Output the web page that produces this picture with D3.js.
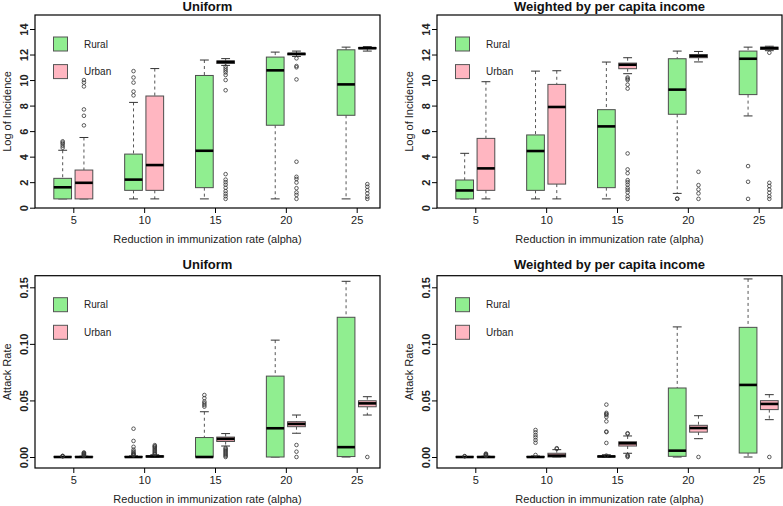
<!DOCTYPE html>
<html>
<head>
<meta charset="utf-8">
<script src="https://cdn.jsdelivr.net/npm/d3@7/dist/d3.min.js"></script>
<style>
  html, body { margin: 0; padding: 0; background: #fff; }
  svg { display: block; font-family: "Liberation Sans", Arial, Helvetica, sans-serif; }
</style>
</head>
<body>
<svg id="chart" width="783" height="506"></svg>
<script>
// ---------------- DATA ----------------
const alphas = [5, 10, 15, 20, 25];
const seriesNames = ["Rural", "Urban"];
const panelTitles = ["Uniform", "Weighted by per capita income"];
const xAxisTitle = "Reduction in immunization rate (alpha)";
const logAxisTitle = "Log of Incidence";
const attackAxisTitle = "Attack Rate";
const logTicks = [0, 2, 4, 6, 8, 10, 12, 14];
const attackTicks = [0, 0.05, 0.10, 0.15];
const attackTickLabels = ["0.00", "0.05", "0.10", "0.15"];

// box stats per alpha: [lower whisker, Q1, median, Q3, upper whisker]
const logUniformRural = [
  [0.69, 0.69, 1.6, 2.3, 4.5],
  [0.69, 1.36, 2.2, 4.2, 8.25],
  [0.69, 1.57, 4.46, 10.36, 11.57],
  [0.69, 6.46, 10.76, 11.8, 12.19],
  [0.69, 7.24, 9.66, 12.37, 12.58]
];
const logUniformRuralOut = [
  [4.7, 4.85, 5.0, 5.1, 5.2],
  [8.8, 9.1, 9.8, 10.2, 10.7],
  [], [], []
];
const logUniformUrban = [
  [0.69, 0.69, 1.95, 2.95, 5.5],
  [0.69, 1.36, 3.34, 8.75, 10.9],
  [11.15, 11.3, 11.42, 11.5, 11.68],
  [11.85, 11.98, 12.05, 12.1, 12.27],
  [12.27, 12.45, 12.5, 12.55, 12.62]
];
const logUniformUrbanOut = [
  [6.45, 7.2, 7.7, 9.5, 9.8, 10.0],
  [],
  [11.05, 10.9, 10.75, 10.6, 10.4, 10.0, 9.2, 2.63, 2.2, 2.0, 1.8, 1.56, 1.3, 1.1, 0.9, 0.69],
  [11.7, 11.1, 11.0, 10.05, 3.6, 2.42, 2.25, 1.97, 1.53, 1.2, 1.0, 0.69],
  [1.85, 1.64, 1.38, 1.12, 0.86, 0.69]
];

const logWeightedRural = [
  [0.69, 0.69, 1.35, 2.17, 4.26],
  [0.69, 1.36, 4.44, 5.7, 10.7],
  [0.69, 1.57, 6.37, 7.68, 11.41],
  [1.12, 7.32, 9.25, 11.67, 12.27],
  [7.19, 8.86, 11.67, 12.27, 12.58]
];
const logWeightedRuralOut = [
  [], [], [],
  [0.69, 0.72],
  [3.26, 2.03, 0.69]
];
const logWeightedUrban = [
  [0.69, 1.36, 3.08, 5.43, 9.87],
  [0.69, 1.85, 7.89, 9.66, 10.73],
  [10.5, 10.89, 11.2, 11.33, 11.75],
  [11.42, 11.75, 11.88, 12.0, 12.24],
  [12.3, 12.4, 12.5, 12.58, 12.65]
];
const logWeightedUrbanOut = [
  [], [],
  [10.2, 10.1, 10.0, 9.64, 9.33, 4.25, 3.0, 2.7, 2.16, 2.0, 1.8, 1.56, 1.4, 1.2, 0.9, 0.69],
  [2.81, 1.77, 1.43, 1.12, 0.69],
  [12.14, 1.95, 1.7, 1.43, 1.17, 0.9, 0.69]
];

const attackUniformRural = [
  [0, 0, 0, 0.0002, 0.0004],
  [0, 0, 0, 0.0004, 0.001],
  [0, 0, 0, 0.0172, 0.040],
  [0, 0, 0.0254, 0.0715, 0.1033],
  [0, 0.0004, 0.0087, 0.1235, 0.1553]
];
const attackUniformRuralOut = [
  [0.0006, 0.0008, 0.001],
  [0.0015, 0.002, 0.0025, 0.003, 0.004, 0.005, 0.0065, 0.009, 0.0142, 0.025],
  [0.0445, 0.046, 0.0475, 0.049, 0.052, 0.0548],
  [], []
];
const attackUniformUrban = [
  [0, 0, 0, 0.0003, 0.0007],
  [0, 0, 0.0005, 0.001, 0.002],
  [0.0097, 0.0137, 0.016, 0.0176, 0.0207],
  [0.021, 0.0268, 0.0292, 0.0312, 0.0371],
  [0.0371, 0.0444, 0.0474, 0.0497, 0.0533]
];
const attackUniformUrbanOut = [
  [0.001, 0.0015, 0.002, 0.0025, 0.003, 0.0035, 0.004],
  [0.0025, 0.003, 0.004, 0.005, 0.006, 0.007, 0.008, 0.009, 0.0095, 0.0105],
  [0.008, 0.007, 0.006, 0.005, 0.004, 0.003, 0.002, 0.001, 0],
  [0.0106, 0.0047, 0],
  [0]
];

const attackWeightedRural = [
  [0, 0, 0, 0.0002, 0.0004],
  [0, 0, 0, 0.0004, 0.0009],
  [0, 0, 0.0005, 0.0009, 0.002],
  [0, 0.0006, 0.0056, 0.061, 0.115],
  [0, 0.0035, 0.0637, 0.1146, 0.1574]
];
const attackWeightedRuralOut = [
  [0.0006, 0.0008],
  [0.0018, 0.0126, 0.015, 0.0174, 0.0194, 0.0218, 0.0239],
  [0.0012, 0.0124, 0.022, 0.0225, 0.0315, 0.0354, 0.0372, 0.038, 0.039, 0.0463],
  [], []
];
const attackWeightedUrban = [
  [0, 0, 0, 0.0003, 0.0007],
  [0, 0, 0.0012, 0.0033, 0.0065],
  [0.0033, 0.0097, 0.0121, 0.0135, 0.0186],
  [0.0162, 0.022, 0.0256, 0.028, 0.0365],
  [0.033, 0.0419, 0.0469, 0.0498, 0.0551]
];
const attackWeightedUrbanOut = [
  [0.001, 0.0015, 0.002, 0.0025, 0.003],
  [0.0072, 0.0078],
  [0.0205, 0.021, 0.0015, 0.0009, 0],
  [0],
  [0]
];

// ---------------- LAYOUT / STYLE ----------------
const fills = { Rural: "#90EE90", Urban: "#FFB6C1" };
const boxStroke = "#4d4d4d";

const panels = [
  { col: 0, row: 0, title: panelTitles[0], ylab: logAxisTitle, kind: "log",
    data: [[logUniformRural, logUniformRuralOut], [logUniformUrban, logUniformUrbanOut]] },
  { col: 1, row: 0, title: panelTitles[1], ylab: logAxisTitle, kind: "log",
    data: [[logWeightedRural, logWeightedRuralOut], [logWeightedUrban, logWeightedUrbanOut]] },
  { col: 0, row: 1, title: panelTitles[0], ylab: attackAxisTitle, kind: "attack",
    data: [[attackUniformRural, attackUniformRuralOut], [attackUniformUrban, attackUniformUrbanOut]] },
  { col: 1, row: 1, title: panelTitles[1], ylab: attackAxisTitle, kind: "attack",
    data: [[attackWeightedRural, attackWeightedRuralOut], [attackWeightedUrban, attackWeightedUrbanOut]] }
];

const svg = d3.select("#chart");
const colOffset = 402;
const rowGeom = [
  { top: 15, bottom: 208, titleY: 11 },
  { top: 275.7, bottom: 468, titleY: 269 }
];

panels.forEach(p => {
  const ox = p.col * colOffset;
  const g = svg.append("g");
  const left = 35 + ox, right = 380 + ox;
  const top = rowGeom[p.row].top, bottom = rowGeom[p.row].bottom;

  const x = d3.scaleLinear().domain([5, 25]).range([73.3 + ox, 356.7 + ox]);
  let y;
  if (p.kind === "log") y = d3.scaleLinear().domain([0, 14]).range([207.7, 29]);
  else y = d3.scaleLinear().domain([0, 0.15]).range([457, 287.3]);

  const boxW = x(1.25) - x(0);
  const offs = [-0.75, 0.75];

  // boxes
  p.data.forEach((pair, si) => {
    const stats = pair[0], outs = pair[1];
    const name = seriesNames[si];
    alphas.forEach((a, i) => {
      const [lo, q1, med, q3, hi] = stats[i];
      const cx = x(a + offs[si]);
      const bg = g.append("g");
      // whiskers
      bg.append("line").attr("x1", cx).attr("x2", cx).attr("y1", y(hi)).attr("y2", y(q3))
        .attr("stroke", "#555").attr("stroke-width", 1).attr("stroke-dasharray", "3,3");
      bg.append("line").attr("x1", cx).attr("x2", cx).attr("y1", y(q1)).attr("y2", y(lo))
        .attr("stroke", "#555").attr("stroke-width", 1).attr("stroke-dasharray", "3,3");
      // staples
      [lo, hi].forEach(v => {
        bg.append("line").attr("x1", cx - boxW / 4).attr("x2", cx + boxW / 4)
          .attr("y1", y(v)).attr("y2", y(v)).attr("stroke", "#333").attr("stroke-width", 1);
      });
      // box
      bg.append("rect").attr("x", cx - boxW / 2).attr("width", boxW)
        .attr("y", y(q3)).attr("height", Math.max(0, y(q1) - y(q3)))
        .attr("fill", fills[name]).attr("stroke", boxStroke).attr("stroke-width", 1);
      // median
      bg.append("line").attr("x1", cx - boxW / 2).attr("x2", cx + boxW / 2)
        .attr("y1", y(med)).attr("y2", y(med)).attr("stroke", "#000").attr("stroke-width", 2.6);
      // outliers
      bg.selectAll("circle.o").data(outs[i]).join("circle")
        .attr("cx", cx).attr("cy", d => y(d)).attr("r", 1.8)
        .attr("fill", "none").attr("stroke", "#333").attr("stroke-width", 0.8);
    });
  });

  // frame
  g.append("rect").attr("x", left).attr("y", top).attr("width", right - left).attr("height", bottom - top)
    .attr("fill", "none").attr("stroke", "#000").attr("stroke-width", 1.2);

  // x axis
  const xa = g.append("g").attr("transform", `translate(0,${bottom})`)
    .call(d3.axisBottom(x).tickValues(alphas).tickSize(5).tickSizeOuter(0));
  xa.select(".domain").remove();
  xa.selectAll(".tick line").attr("stroke", "#000");
  xa.selectAll(".tick text").attr("y", 16).attr("dy", 0)
    .attr("font-size", 11).attr("fill", "#222").attr("font-family", null);

  // y axis
  const ticks = p.kind === "log" ? logTicks : attackTicks;
  const yAxis = d3.axisLeft(y).tickValues(ticks).tickSize(5).tickSizeOuter(0);
  if (p.kind === "attack") yAxis.tickFormat((d, i) => attackTickLabels[i]);
  const ya = g.append("g").attr("transform", `translate(${left},0)`).call(yAxis);
  ya.select(".domain").remove();
  ya.selectAll(".tick line").attr("stroke", "#000");
  ya.selectAll(".tick text").attr("transform", "rotate(-90)")
    .attr("x", 0).attr("y", -7.5).attr("dy", 0).attr("text-anchor", "middle")
    .attr("font-size", 11).attr("font-weight", "bold").attr("fill", "#222").attr("font-family", null);

  // titles
  const cxp = (left + right) / 2, cyp = (top + bottom) / 2;
  g.append("text").attr("x", cxp).attr("y", rowGeom[p.row].titleY).attr("text-anchor", "middle")
    .attr("font-size", 13).attr("font-weight", "bold").attr("fill", "#111").text(p.title);
  g.append("text").attr("x", cxp).attr("y", bottom + 35).attr("text-anchor", "middle")
    .attr("font-size", 11).attr("fill", "#222").text(xAxisTitle);
  g.append("text").attr("transform", `translate(${left - 24},${cyp}) rotate(-90)`)
    .attr("text-anchor", "middle").attr("font-size", 11).attr("fill", "#222").text(p.ylab);

  // legend
  const lgTop = top + 22;
  seriesNames.forEach((n, i) => {
    const yy = lgTop + i * 27.6;
    g.append("rect").attr("x", left + 18.5).attr("y", yy).attr("width", 14).attr("height", 14)
      .attr("fill", fills[n]).attr("stroke", "#555").attr("stroke-width", 1);
    g.append("text").attr("x", left + 49).attr("y", yy + 10.6)
      .attr("font-size", 10).attr("fill", "#222").text(n);
  });
});
</script>
</body>
</html>
